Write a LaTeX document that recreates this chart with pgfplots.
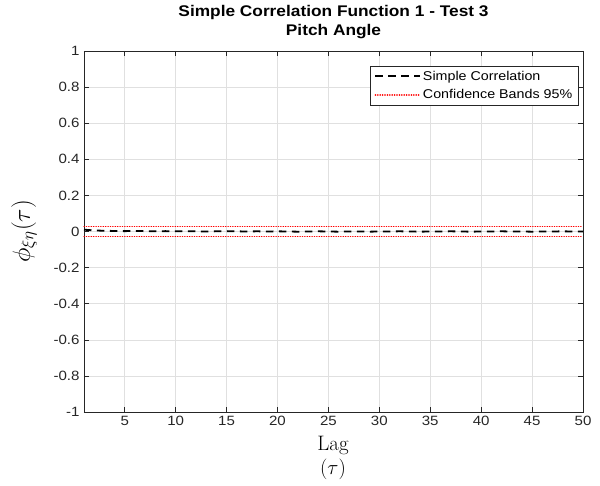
\documentclass[border=0pt]{standalone}
\usepackage{fontspec}
\setmainfont{Liberation Sans}[FakeStretch=1.12]
\newfontfamily\lmr{Latin Modern Roman}
\usepackage{pgfplots}
\pgfplotsset{compat=1.18}
\definecolor{axgray}{RGB}{38,38,38}
\definecolor{gridgray}{RGB}{224,224,224}
\begin{document}
\begin{tikzpicture}
\useasboundingbox (-84bp,-74bp) rectangle (516bp,412bp);
\begin{axis}[
  scale only axis,
  clip=false,
  width=499bp, height=361bp,
  xmin=1, xmax=50, ymin=-1, ymax=1,
  xtick={5,10,15,20,25,30,35,40,45,50},
  xticklabels={5,10,15,20,25,30,35,40,45,50},
  ytick={-1,-0.8,-0.6,-0.4,-0.2,0,0.2,0.4,0.6,0.8,1},
  yticklabels={-1,-0.8,-0.6,-0.4,-0.2,0,0.2,0.4,0.6,0.8,1},
  tick align=inside,
  major tick length=5bp,
  tick style={axgray, line width=0.5pt},
  axis line style={axgray, line width=0.6pt},
  grid=major,
  major grid style={gridgray, line width=0.5pt},
  ticklabel style={font=\fontsize{13.5}{15}\selectfont, text=axgray},
  xticklabel style={yshift=-1bp},
  yticklabel style={xshift=-1bp},
  title={Simple Correlation Function 1 - Test 3\\Pitch Angle},
  title style={at={(axis description cs:0.5,1)}, anchor=south, yshift=3bp,
    font=\bfseries\fontsize{15.5}{18.5}\selectfont, align=center, text=black},
  xlabel={{\lmr Lag}\\$(\tau)$},
  xlabel style={at={(axis description cs:0.499,-0.128)}, anchor=center,
    font=\fontsize{21}{24.5}\selectfont, align=center},
  legend style={at={(0.991,0.958)}, anchor=north east, draw=axgray, line width=0.5pt,
    font=\fontsize{12.8}{15}\selectfont, inner xsep=4bp, inner ysep=2.5bp, row sep=4bp,
    cells={anchor=west}},
  legend cell align=left,
  legend image code/.code={\draw[#1] (0cm,0cm) -- (1.58cm,0cm);},
]
\addplot[black, line width=1.8pt, dash pattern=on 7.5bp off 5.5bp] coordinates {
(1,0.010)(2,0.006)(3,0.004)(4,0.003)(5,0.002)(6,0.003)(7,0.002)(8,0.001)(9,0.002)(10,0.001)
(11,0.002)(12,0.001)(13,0.000)(14,0.001)(15,0.002)(16,0.001)(17,0.000)(18,0.001)(19,0.000)(20,0.001)
(21,0.000)(22,-0.001)(23,0.000)(24,0.001)(25,0.000)(26,-0.001)(27,0.000)(28,0.000)(29,-0.001)(30,0.000)
(31,0.000)(32,0.001)(33,0.000)(34,-0.001)(35,0.000)(36,0.000)(37,0.001)(38,0.000)(39,-0.001)(40,0.000)
(41,0.000)(42,0.001)(43,0.000)(44,0.000)(45,-0.001)(46,0.000)(47,0.000)(48,0.001)(49,0.000)(50,0.000)
};
\addlegendentry{Simple Correlation}
\addplot[red, line width=1.5pt, line cap=round, dash pattern=on 0.2bp off 2.2bp] coordinates {(1,0.028)(50,0.028)};
\addlegendentry{Confidence Bands 95\%}
\addplot[red, line width=1.5pt, line cap=round, dash pattern=on 0.2bp off 2.2bp, forget plot] coordinates {(1,-0.028)(50,-0.028)};
\node[rotate=90, anchor=center, font=\fontsize{24}{26}\selectfont] at (axis description cs:-0.1202,0.5) {$\phi_{\xi\eta}(\tau)$};
\end{axis}
\end{tikzpicture}
\end{document}
